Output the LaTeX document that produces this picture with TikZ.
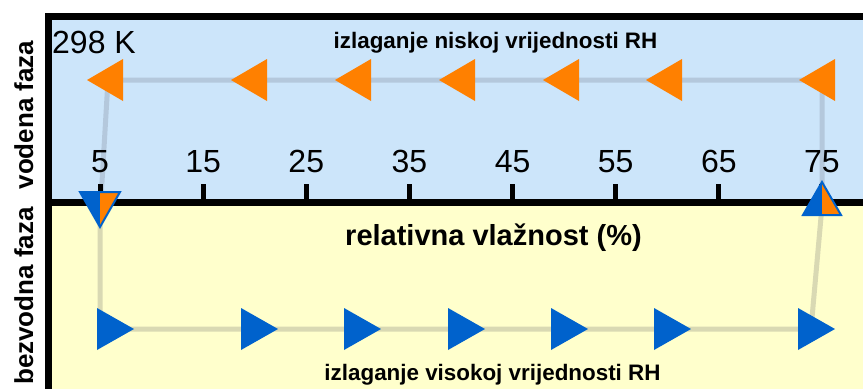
\documentclass[tikz,border=0pt]{standalone}
\usepackage{fontspec}
\setmainfont{Liberation Sans}
\definecolor{bgblue}{HTML}{CCE5FA}
\definecolor{bgyellow}{HTML}{FFFFCC}
\definecolor{arrblue}{HTML}{0062CC}
\definecolor{arrorange}{HTML}{FF8000}
\definecolor{pathblue}{HTML}{B4C8DC}
\definecolor{pathyellow}{HTML}{D9D9B3}
\tikzset{
  pathline/.style={line width=5pt, line join=round},
  numlabel/.style={anchor=base, inner sep=0pt, font=\fontsize{32}{36}\selectfont},
  titlelabel/.style={anchor=base, inner sep=0pt, font=\bfseries\fontsize{22.4}{26}\selectfont},
  axislabel/.style={anchor=base, inner sep=0pt, font=\bfseries\fontsize{29}{33}\selectfont},
  phaselabel/.style={anchor=base, inner sep=0pt, rotate=90, font=\bfseries\fontsize{26}{30}\selectfont},
  orangearr/.style={fill=arrorange},
  bluearr/.style={fill=arrblue},
  marker/.style={draw=arrblue, line width=2pt, line join=miter},
}
\begin{document}
\begin{tikzpicture}[x=1pt,y=-1pt]
\useasboundingbox (0,0) rectangle (863,389);
\clip (0,0) rectangle (863,389);
% backgrounds
\fill[bgblue] (52,20) rectangle (863,199);
\fill[bgyellow] (52,206) rectangle (863,389);
% path corners
\coordinate (tl) at (108,80);
\coordinate (tr) at (822,80);
\coordinate (ml) at (101,199);
\coordinate (mr) at (822,199);
\coordinate (bl0) at (100,206);
\coordinate (bl) at (100,329);
\coordinate (br0) at (822,206);
\coordinate (brc) at (812,318);
\coordinate (br) at (812,329);
\draw[pathline, pathblue] (ml) -- (tl) -- (tr) -- (mr);
\draw[pathline, pathyellow] (bl0) -- (bl) -- (br) -- (brc) -- (br0);
% axis line and ticks
\fill[black] (52,198.5) rectangle (863,206);
\foreach \v [count=\i] in {5,15,25,35,45,55,65,75} {
  \pgfmathsetmacro{\xx}{100+(\v-5)*10.314}
  \fill[black] (\xx-2.5,184) rectangle (\xx+2.5,199);
  \node[numlabel] (n\i) at (\xx,172) {\v};
}
% borders
\fill[black] (45,13) rectangle (863,20);
\fill[black] (45,13) rectangle (52,389);
% texts
\node[anchor=base west, inner sep=0pt, font=\fontsize{32}{36}\selectfont] (temp) at (52,53) {298 K};
\node[titlelabel] (title) at (495.5,48) {izlaganje niskoj vrijednosti RH};
\node[axislabel] (axis) at (493.5,245) {relativna vlažnost (\%)};
\node[titlelabel] (bottom) at (492.5,380) {izlaganje visokoj vrijednosti RH};
\node[phaselabel] (vod) at (33,115) {vodena faza};
\node[phaselabel] (bez) at (33,296) {bezvodna faza};
% orange arrows (pointing left)
\foreach \t in {87,231,335,439,543,646,799} {
  \fill[orangearr] (\t,80) -- (\t+36,59) -- (\t+36,101) -- cycle;
}
% blue arrows (pointing right)
\foreach \b in {97,241,344,448,551,654,798} {
  \fill[bluearr] (\b,308) -- (\b+37,329) -- (\b,350) -- cycle;
}
% markers on axis
\fill[arrblue] (80,192) -- (100,192) -- (100,227) -- cycle;
\fill[arrorange] (100,192) -- (120,192) -- (100,227) -- cycle;
\draw[marker] (80,192) -- (120,192) -- (100,227) -- cycle;
\fill[arrblue] (822,182) -- (822,215) -- (803,215) -- cycle;
\fill[arrorange] (822,182) -- (841,215) -- (822,215) -- cycle;
\draw[marker] (822,182) -- (841,215) -- (803,215) -- cycle;
\end{tikzpicture}
\end{document}
